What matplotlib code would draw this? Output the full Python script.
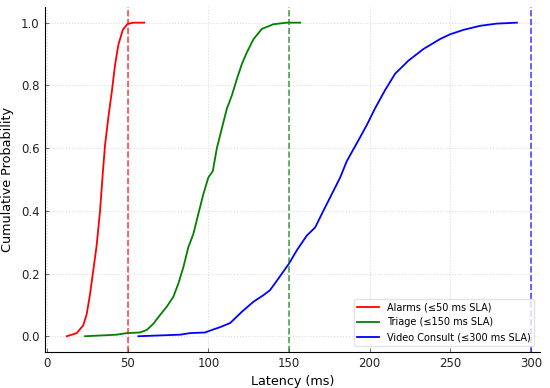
import matplotlib
matplotlib.use("Agg")
import matplotlib.pyplot as plt

# ECDF points (latency ms, cumulative probability)
alarms_ms = [12.0, 18.2, 22.3, 24.4, 26.5, 28.5, 30.6, 32.7, 34.4, 35.8, 37.9,
             40.0, 42.0, 44.1, 46.8, 49.7, 53.4, 60.2]
alarms_p = [0.0, 0.01, 0.035, 0.07, 0.135, 0.21, 0.29, 0.40, 0.52, 0.61, 0.70,
            0.78, 0.865, 0.93, 0.977, 0.996, 1.0, 1.0]

triage_ms = [23.4, 43.1, 49.3, 57.5, 61.7, 65.8, 70.0, 74.1, 78.2, 81.3, 84.4,
             87.5, 90.6, 93.7, 96.8, 99.9, 102.7, 105.2, 108.3, 111.4, 114.5,
             117.6, 120.7, 123.8, 127.9, 133.1, 140.3, 148.6, 156.9]
triage_p = [0.0, 0.005, 0.01, 0.012, 0.02, 0.04, 0.068, 0.094, 0.126, 0.168, 0.22,
            0.284, 0.326, 0.39, 0.453, 0.506, 0.527, 0.60, 0.663, 0.726, 0.768,
            0.82, 0.868, 0.905, 0.947, 0.98, 0.995, 1.0, 1.0]

video_ms = [56.5, 82.4, 88.6, 97.9, 101.0, 107.2, 113.4, 120.7, 127.9, 134.1,
            138.2, 143.4, 150.0, 154.8, 161.0, 166.2, 171.3, 176.5, 181.7, 185.8,
            192.1, 198.3, 203.4, 209.6, 215.8, 224.1, 233.4, 243.8, 250.0, 258.2,
            268.6, 278.9, 291.4]
video_p = [0.0, 0.005, 0.01, 0.012, 0.018, 0.029, 0.042, 0.078, 0.11, 0.131,
           0.147, 0.184, 0.232, 0.274, 0.321, 0.347, 0.40, 0.453, 0.506, 0.558,
           0.616, 0.674, 0.727, 0.785, 0.837, 0.879, 0.916, 0.948, 0.963, 0.977,
           0.99, 0.997, 1.0]

labels = ["Alarms (≤50 ms SLA)", "Triage (≤150 ms SLA)", "Video Consult (≤300 ms SLA)"]
colors = ["red", "green", "blue"]
sla_ms = [50, 150, 300]

fig = plt.figure(figsize=(5.5, 3.88), dpi=100)
ax = fig.add_axes([0.082, 0.093, 0.9, 0.889])

series = [(alarms_ms, alarms_p), (triage_ms, triage_p), (video_ms, video_p)]
for (xs, ps), lab, c in zip(series, labels, colors):
    ax.plot(xs, ps, color=c, lw=1.3, label=lab)
for s, c in zip(sla_ms, colors):
    ax.axvline(s, color=c, ls="--", lw=1.2, alpha=0.7)

ax.set_xlim(-1.4, 305.8)
ax.set_ylim(-0.05, 1.05)
ax.set_xticks([0, 50, 100, 150, 200, 250, 300])
ax.set_yticks([0.0, 0.2, 0.4, 0.6, 0.8, 1.0])
ax.tick_params(direction="in", length=3, width=0.6, color="#555555",
               labelsize=8.5, labelcolor="#222222", pad=4)
ax.grid(True, ls=":", color="#dddddd", lw=0.8)
for side in ["top", "right"]:
    ax.spines[side].set_visible(False)
ax.set_xlabel("Latency (ms)", fontsize=9.2, labelpad=3)
ax.set_ylabel("Cumulative Probability", fontsize=9.2, labelpad=5)
ax.legend(loc="lower right", fontsize=7, frameon=True, edgecolor="#dddddd",
          handlelength=2.2, borderaxespad=0.6)

fig.savefig("out.png", dpi=100)
